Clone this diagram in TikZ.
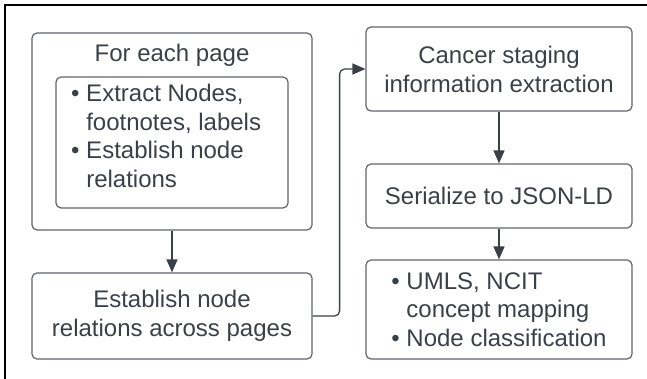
\documentclass[tikz,border=0pt]{standalone}
\usepackage{fontspec}
\setmainfont{Liberation Sans}
\usetikzlibrary{arrows.meta}
\definecolor{ink}{HTML}{3B4048}
\definecolor{edge}{HTML}{60646B}

\begin{document}
\begin{tikzpicture}[x=1pt, y=-1pt,
	box/.style={draw=edge, line width=1.2pt, rounded corners=5pt, inner sep=0pt, text=ink, font=\fontsize{24}{29}\selectfont, align=center},
	txt/.style={text=ink, font=\fontsize{24}{29}\selectfont, inner sep=0pt},
	flow/.style={draw=ink, line width=1.3pt, -{Triangle[length=13pt,width=11pt]}}]
			%%%%% START %%%%%
			
			\useasboundingbox (0,0) rectangle (647,379);
			\draw[line width=1.8pt] (5,379) -- (5,5) -- (647,5);
			
			\node[box, minimum width=280pt, minimum height=197pt] (page) at (172,131.5) {};
			\node[txt] (pagetitle) at (172,55) {For each page};
			\node[box, minimum width=232pt, minimum height=131pt] (steps) at (172,142.5) {};
			\node[txt, align=left, font=\fontsize{24}{28.5}\selectfont, anchor=west] (stepslist) at (71,136) {• Extract Nodes,\\\phantom{• }footnotes, labels\\• Establish node\\\phantom{• }relations};
			
			\node[box, minimum width=280pt, minimum height=86pt] (across) at (172,316) {Establish node\\relations across pages};
			
			\node[box, minimum width=266pt, minimum height=84pt] (staging) at (499,69) {Cancer staging\\information extraction};
			\node[box, minimum width=266pt, minimum height=64pt] (serialize) at (499,196) {Serialize to JSON-LD};
			\node[box, minimum width=266pt, minimum height=99pt, align=left, font=\fontsize{24}{28.5}\selectfont] (mapping) at (499,309.5) {• UMLS, NCIT\\\phantom{• }concept mapping\\• Node classification};
			
			\draw[flow] (page) -- (across);
			\draw[flow, rounded corners=5pt] (across.east) -- ++(27,0) |- (staging.west);
			\draw[flow] (staging) -- (serialize);
			\draw[flow] (serialize) -- (mapping);
			
			%%%%% END %%%%%
\end{tikzpicture}
\end{document}
